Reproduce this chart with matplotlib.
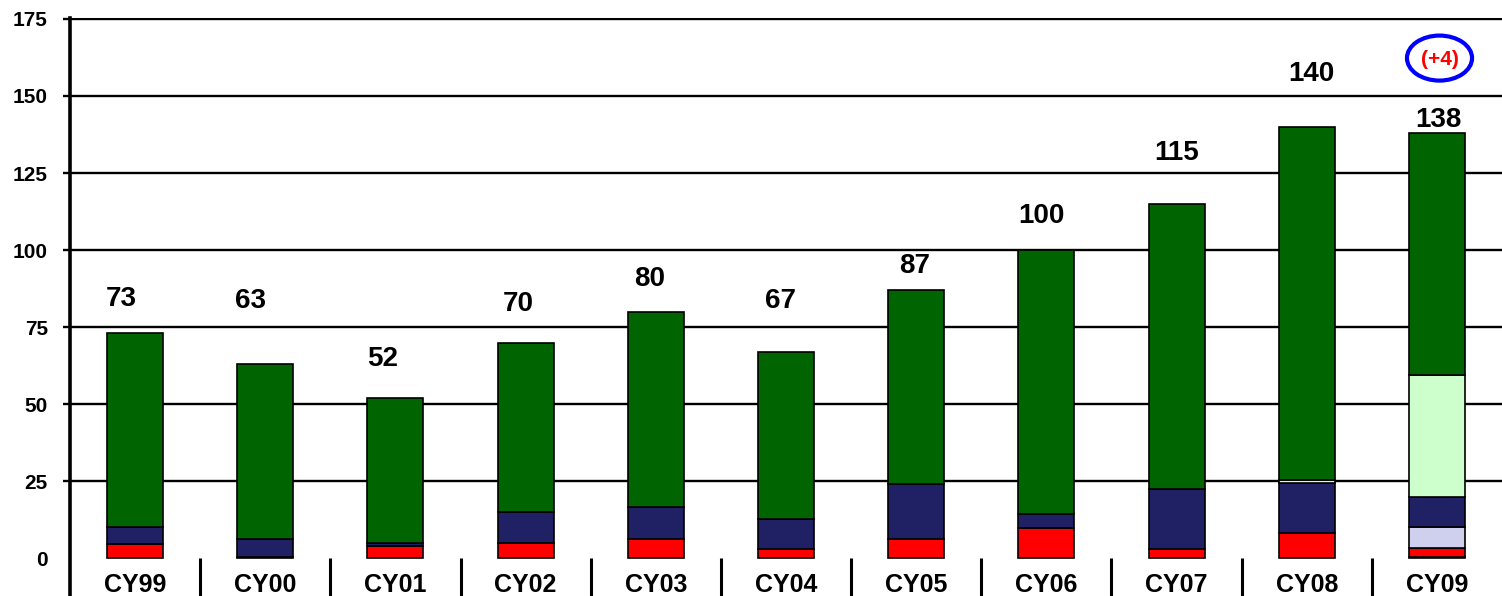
import matplotlib
matplotlib.use("Agg")
import matplotlib.pyplot as plt
from matplotlib.patches import Ellipse
import numpy as np

# ---- data ----
categories = ['CY99', 'CY00', 'CY01', 'CY02', 'CY03', 'CY04', 'CY05', 'CY06', 'CY07', 'CY08', 'CY09']
totals = [73, 63, 52, 70, 80, 67, 87, 100, 115, 140, 138]
pink_vals = [0, 0, 0, 0, 0, 0, 0, 0, 0, 0, 0.6]
red_vals = [4.7, 0.6, 3.9, 4.9, 6.2, 3.0, 6.2, 10.0, 3.1, 8.2, 2.7]
lavender_vals = [0, 0, 0, 0, 0, 0, 0, 0, 0, 0, 6.8]
navy_vals = [5.4, 5.6, 1.1, 10.3, 10.6, 9.7, 17.9, 4.3, 19.3, 16.2, 9.7]
lightgreen_vals = [0, 0, 0, 0, 0, 0, 0, 0, 0, 1.1, 39.7]
darkgreen_vals = [62.9, 56.8, 47.0, 54.8, 63.2, 54.3, 62.9, 85.7, 92.6, 114.5, 78.5]
yticks = [0, 25, 50, 75, 100, 125, 150, 175]
annotation = '(+4)'

# label placement (data units)
label_y = [84.2, 83.4, 64.6, 82.4, 90.5, 83.4, 94.7, 111.1, 131.4, 157.0, 142.1]
label_dx = [-0.11, -0.115, -0.10, -0.06, -0.045, -0.04, -0.015, -0.04, 0.0, 0.035, 0.01]

series = [
    (pink_vals, '#FFC8C8'),
    (red_vals, '#FF0000'),
    (lavender_vals, '#CFCFEE'),
    (navy_vals, '#202064'),
    (lightgreen_vals, '#CCFFCC'),
    (darkgreen_vals, '#006400'),
]

FAM = ['Liberation Sans', 'DejaVu Sans']

fig = plt.figure(figsize=(15.02, 5.96), dpi=100)
ax = fig.add_axes([70 / 1502, 0.0, 1 - 70 / 1502, 0.9703])

x = np.arange(len(categories))
bottom = np.zeros(len(categories))
for vals, col in series:
    v = np.array(vals, dtype=float)
    m = v > 0
    ax.bar(x[m], v[m], bottom=bottom[m], width=0.43, color=col,
           edgecolor='black', linewidth=1.2, zorder=3)
    bottom += v

ax.set_xlim(-0.5, 10.5)
ax.set_ylim(-12.2, 175.4)

# gridlines
ax.set_yticks(yticks)
ax.set_yticklabels([str(t) for t in yticks], fontsize=15, fontweight='bold', family=FAM)
ax.yaxis.grid(True, color='black', linewidth=1.7, zorder=1)
ax.set_axisbelow(True)
ax.tick_params(axis='y', direction='out', length=5, width=1.7, pad=11, colors='black')
t0 = ax.yaxis.get_major_ticks()[0]
t0.tick1line.set_visible(False)
t0.gridline.set_visible(False)

ax.set_xticks([])
for s in ['top', 'right', 'bottom']:
    ax.spines[s].set_visible(False)
ax.spines['left'].set_linewidth(2.6)

# separators below zero
ax.vlines(np.arange(len(categories) - 1) + 0.5, -12.2, 0, color='black',
          linewidth=2.2, zorder=2)

# category labels
for i, c in enumerate(categories):
    ax.text(i, -8.6, c, ha='center', va='center', fontsize=18, fontweight='bold',
            family=FAM)

# value labels
for i, t in enumerate(totals):
    ax.text(i + label_dx[i], label_y[i], str(t), ha='center', va='center',
            fontsize=20, fontweight='bold', family=FAM, zorder=5)

# annotation ellipse
ell = Ellipse((10.02, 162.3), 0.5, 14.6, fill=False, edgecolor='#0000FF',
              linewidth=3, zorder=6)
ax.add_patch(ell)
ax.text(10.02, 162.0, annotation, ha='center', va='center', color='#FF0000',
        fontsize=15, fontweight='bold', family=FAM, zorder=7)

fig.savefig('out.png', dpi=100)
